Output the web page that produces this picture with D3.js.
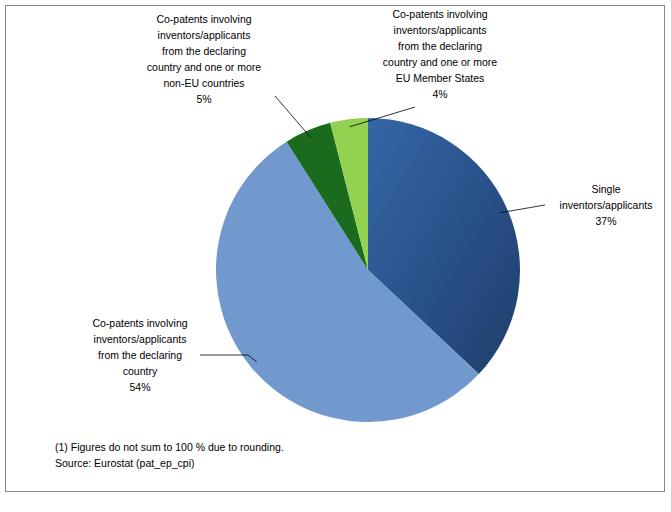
<!DOCTYPE html><html><head><script src="https://cdn.jsdelivr.net/npm/d3@7"></script>
<style>body{margin:0;background:#fff}text{font-family:"Liberation Sans",Arial,sans-serif;font-size:10.5px;fill:#000}</style></head><body>
<svg id="c" width="671" height="512"></svg>
<script>
const categories=["Single inventors/applicants","Co-patents involving inventors/applicants from the declaring country","Co-patents involving inventors/applicants from the declaring country and one or more non-EU countries","Co-patents involving inventors/applicants from the declaring country and one or more EU Member States"];
const values=[37,54,5,4];
const labelLines=[["Single","inventors/applicants","37%"],["Co-patents involving","inventors/applicants","from the declaring","country","54%"],["Co-patents involving","inventors/applicants","from the declaring","country and one or more","non-EU countries","5%"],["Co-patents involving","inventors/applicants","from the declaring","country and one or more","EU Member States","4%"]];
const colors=["url(#g0)","#7199cd","#1b6b1f","#93d150"];
const svg=d3.select("#c");
svg.append("rect").attr("x",5.5).attr("y",5.5).attr("width",659).attr("height",486).attr("fill","#fff").attr("stroke","#888");
const defs=svg.append("defs");
const g0=defs.append("linearGradient").attr("id","g0").attr("x1",0).attr("y1",0).attr("x2",1).attr("y2",1);
g0.append("stop").attr("offset",0).attr("stop-color","#3566a8");
g0.append("stop").attr("offset",1).attr("stop-color","#1e3e6c");
const cx=368,cy=270,r=152;
const pie=d3.pie().sort(null)(values);
const arc=d3.arc().innerRadius(0).outerRadius(r);
const g=svg.append("g").attr("transform",`translate(${cx},${cy})`);
g.selectAll("path").data(pie).join("path").attr("d",arc).attr("fill",(d,i)=>colors[i]);
const labels=[{x:606,y:193,lx:545,ly:205},{x:140,y:327,lx:200,ly:355},{x:204,y:23,lx:275,ly:96},{x:440,y:18,lx:415,ly:107}];
const edge=d3.arc().innerRadius(r*0.97).outerRadius(r*0.97);
labels.forEach((L,i)=>{
  const a=(pie[i].startAngle+pie[i].endAngle)/2;
  const px=cx+Math.sin(a)*r*0.95, py=cy-Math.cos(a)*r*0.95;
  svg.append("polyline").attr("points",`${L.lx},${L.ly} ${i==1?L.lx+48:L.lx},${i==1?L.ly:L.ly} ${px},${py}`).attr("fill","none").attr("stroke","#000").attr("stroke-width",0.8);
  const t=svg.append("text").attr("text-anchor","middle");
  labelLines[i].forEach((s,j)=>t.append("tspan").attr("x",L.x).attr("y",L.y+j*16).text(s));
});
svg.append("text").attr("x",55).attr("y",451).text("(1) Figures do not sum to 100 % due to rounding.");
svg.append("text").attr("x",55).attr("y",467).text("Source: Eurostat (pat_ep_cpi)");
</script></body></html>
